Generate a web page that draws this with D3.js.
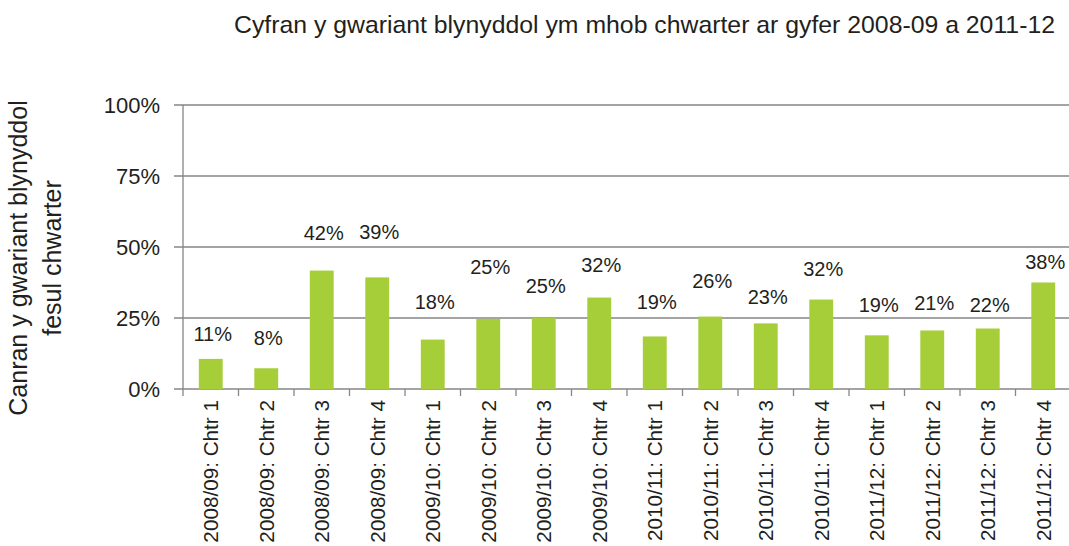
<!DOCTYPE html>
<html>
<head>
	<meta charset="utf-8">
	<script src="https://cdnjs.cloudflare.com/ajax/libs/d3/7.8.2/d3.min.js"></script>
	<style>
		body { margin: 0 ; background: #ffffff ; }
		svg { display: block ; }
		text { font-family: Arial, "Liberation Sans", sans-serif ; fill: #231f20 ; }
	</style>
</head>
<body>
	<svg id="canvas"></svg>
<script>
	// quarters, as on the category axis
	let categories = [
		"2008/09: Chtr 1", "2008/09: Chtr 2", "2008/09: Chtr 3", "2008/09: Chtr 4",
		"2009/10: Chtr 1", "2009/10: Chtr 2", "2009/10: Chtr 3", "2009/10: Chtr 4",
		"2010/11: Chtr 1", "2010/11: Chtr 2", "2010/11: Chtr 3", "2010/11: Chtr 4",
		"2011/12: Chtr 1", "2011/12: Chtr 2", "2011/12: Chtr 3", "2011/12: Chtr 4"
	] ;
	// share of annual spend per quarter (%)
	let values = [ 10.6, 7.3, 41.7, 39.3, 17.4, 24.7, 25.0, 32.2, 18.5, 25.5, 23.1, 31.5, 18.9, 20.6, 21.3, 37.5 ] ;
	// the rounded numbers printed over the bars
	let labels = [ 11, 8, 42, 39, 18, 25, 25, 32, 19, 26, 23, 32, 19, 21, 22, 38 ] ;
	let yTicks = [ 0, 25, 50, 75, 100 ] ;

	let title = "Cyfran y gwariant blynyddol ym mhob chwarter ar gyfer 2008-09 a 2011-12" ;
	let yTitle = [ "Canran y gwariant blynyddol", "fesul chwarter" ] ;

	// where each label was hand placed (in % units on the y axis)
	let labelAt = [ 19.4, 18.0, 54.9, 55.3, 30.6, 43.0, 36.3, 43.7, 30.6, 38.0, 32.4, 42.3, 29.6, 30.3, 29.6, 44.7 ] ;

	let geom = {
		width: 1069,
		height: 546,
		left: 183,
		right: 1071,
		top: 105,
		bottom: 389
	} ;

	let svg = d3.select( '#canvas' )
		.attr( 'width', geom.width )
		.attr( 'height', geom.height ) ;

	let x = d3.scaleBand()
		.domain( categories )
		.range( [ geom.left, geom.right ] )
		.padding( 0 ) ;
	let y = d3.scaleLinear()
		.domain( [ 0, 100 ] )
		.range( [ geom.bottom, geom.top ] ) ;
	let barW = x.bandwidth() * 0.43 ;

	// gridlines (they also act as the left tick marks)
	svg.append( 'g' )
		.selectAll( 'line' )
		.data( yTicks )
		.join( 'line' )
		.attr( 'x1', geom.left - 9 )
		.attr( 'x2', geom.width )
		.attr( 'y1', d => y(d) )
		.attr( 'y2', d => y(d) )
		.attr( 'stroke', '#868686' )
		.attr( 'stroke-width', 1.3 ) ;

	// vertical axis line
	svg.append( 'line' )
		.attr( 'x1', geom.left ).attr( 'x2', geom.left )
		.attr( 'y1', y(100) ).attr( 'y2', y(0) + 7 )
		.attr( 'stroke', '#868686' )
		.attr( 'stroke-width', 1.3 ) ;

	// category boundary ticks
	svg.append( 'g' )
		.selectAll( 'line' )
		.data( categories.slice( 1 ) )
		.join( 'line' )
		.attr( 'x1', d => x(d) )
		.attr( 'x2', d => x(d) )
		.attr( 'y1', y(0) )
		.attr( 'y2', y(0) + 7 )
		.attr( 'stroke', '#868686' )
		.attr( 'stroke-width', 1.3 ) ;

	// y tick labels
	svg.append( 'g' )
		.selectAll( 'text' )
		.data( yTicks )
		.join( 'text' )
		.attr( 'x', 160 )
		.attr( 'y', d => y(d) )
		.attr( 'dy', '0.38em' )
		.attr( 'text-anchor', 'end' )
		.style( 'font-size', '22px' )
		.text( d => d + '%' ) ;

	// bars
	svg.append( 'g' )
		.selectAll( 'rect' )
		.data( values )
		.join( 'rect' )
		.attr( 'x', (d, i) => x( categories[i] ) + ( x.bandwidth() - barW ) / 2 )
		.attr( 'y', d => y(d) )
		.attr( 'width', barW )
		.attr( 'height', d => y(0) - y(d) )
		.attr( 'fill', '#a6ce39' ) ;

	// value labels
	svg.append( 'g' )
		.selectAll( 'text' )
		.data( labels )
		.join( 'text' )
		.attr( 'x', (d, i) => x( categories[i] ) + x.bandwidth() / 2 + 2 )
		.attr( 'y', (d, i) => y( labelAt[i] ) )
		.attr( 'dy', '0.36em' )
		.attr( 'text-anchor', 'middle' )
		.style( 'font-size', '20px' )
		.text( d => d + '%' ) ;

	// category labels, rotated
	svg.append( 'g' )
		.selectAll( 'text' )
		.data( categories )
		.join( 'text' )
		.attr( 'transform', d => 'translate(' + ( x(d) + x.bandwidth() / 2 ) + ',' + ( y(0) + 11 ) + ') rotate(-90)' )
		.attr( 'dy', '0.36em' )
		.attr( 'text-anchor', 'end' )
		.style( 'font-size', '20.7px' )
		.text( d => d ) ;

	// title
	svg.append( 'text' )
		.attr( 'x', 1055 )
		.attr( 'y', 33 )
		.attr( 'text-anchor', 'end' )
		.style( 'font-size', '24.8px' )
		.text( title ) ;

	// y axis title, two lines
	svg.append( 'g' )
		.attr( 'transform', 'translate(0,258) rotate(-90)' )
		.selectAll( 'text' )
		.data( yTitle )
		.join( 'text' )
		.attr( 'x', 0 )
		.attr( 'y', (d, i) => 27 + i * 34 )
		.attr( 'text-anchor', 'middle' )
		.style( 'font-size', '25px' )
		.text( d => d ) ;
</script>
</body>
</html>
